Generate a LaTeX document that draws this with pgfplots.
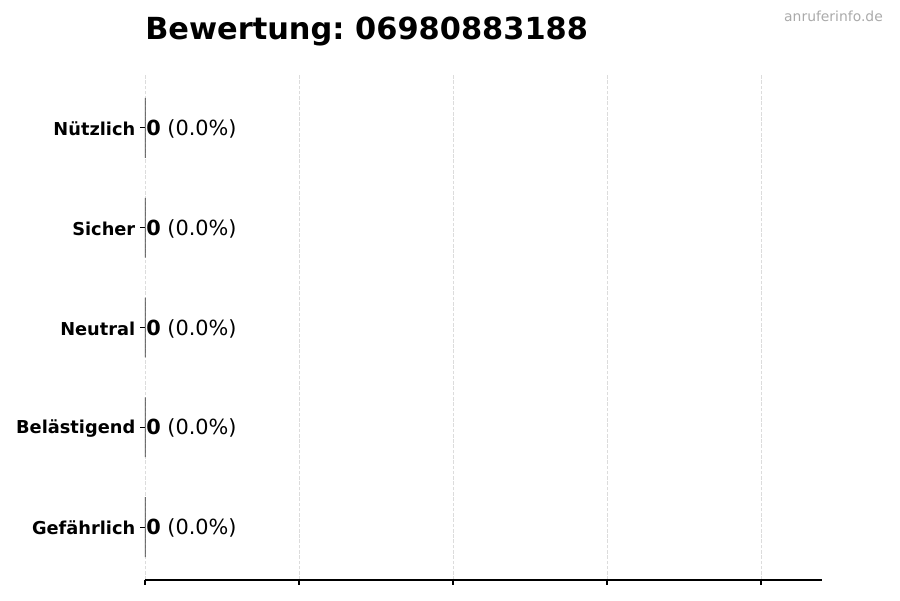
\documentclass[border=0pt]{standalone}
\usepackage{fontspec}
\setmainfont{DejaVu Sans}
\usepackage{pgfplots}
\usepackage{pgfplotstable}
\pgfplotsset{compat=1.18}
\frenchspacing
\definecolor{wm}{HTML}{AAAAAA}
\definecolor{gridc}{HTML}{DCDCDC}
\definecolor{barc}{HTML}{333333}
\pgfplotstableread{
y v
0 0
1 0
2 0
3 0
4 0
}\ratings
\begin{document}
\begin{tikzpicture}
\useasboundingbox (-104.4pt,-14.4pt) rectangle (543.6pt,417.6pt);
\begin{axis}[
  at={(0,0)}, anchor=south west,
  scale only axis, width=487.4pt, height=363.6pt,
  xbar, bar width=0.6,
  xmin=0, xmax=4.396, ymin=-0.53, ymax=4.53,
  xtick={0,1,2,3,4}, xticklabels={},
  ytick={0,1,2,3,4},
  yticklabels={Gefährlich,Belästigend,Neutral,Sicher,Nützlich},
  axis x line*=bottom, axis y line*=left,
  y axis line style={draw=none},
  x axis line style={-, line width=0.8pt},
  xmajorgrids,
  grid style={dash pattern=on 2.6pt off 1.2pt, gridc, line width=0.6pt},
  tick align=outside, major tick length=3.5pt,
  tick style={black, line width=0.8pt},
  yticklabel style={font=\fontsize{12.8}{15}\selectfont\bfseries, yshift=-0.7pt},
  point meta=x,
  nodes near coords={\textbf{\pgfmathprintnumber[fixed,precision=0,assume math mode=true]{\pgfplotspointmeta}}\ (0.0\%)},
  every node near coord/.append style={anchor=west, font=\fontsize{15}{18}\selectfont, inner sep=0.7pt, text=black, yshift=-0.7pt},
]
\addplot[draw=barc, fill=barc, line width=0.5pt] table[x=v, y=y] {\ratings};
\end{axis}
\node[anchor=base west, inner sep=0pt, font=\fontsize{21.9}{26}\selectfont\bfseries] at (0pt,389.5pt) {Bewertung: 06980883188};
\node[anchor=base east, inner sep=0pt, font=\fontsize{10}{12}\selectfont, text=wm] at (531.4pt,401.8pt) {anruferinfo.de};
\end{tikzpicture}
\end{document}
